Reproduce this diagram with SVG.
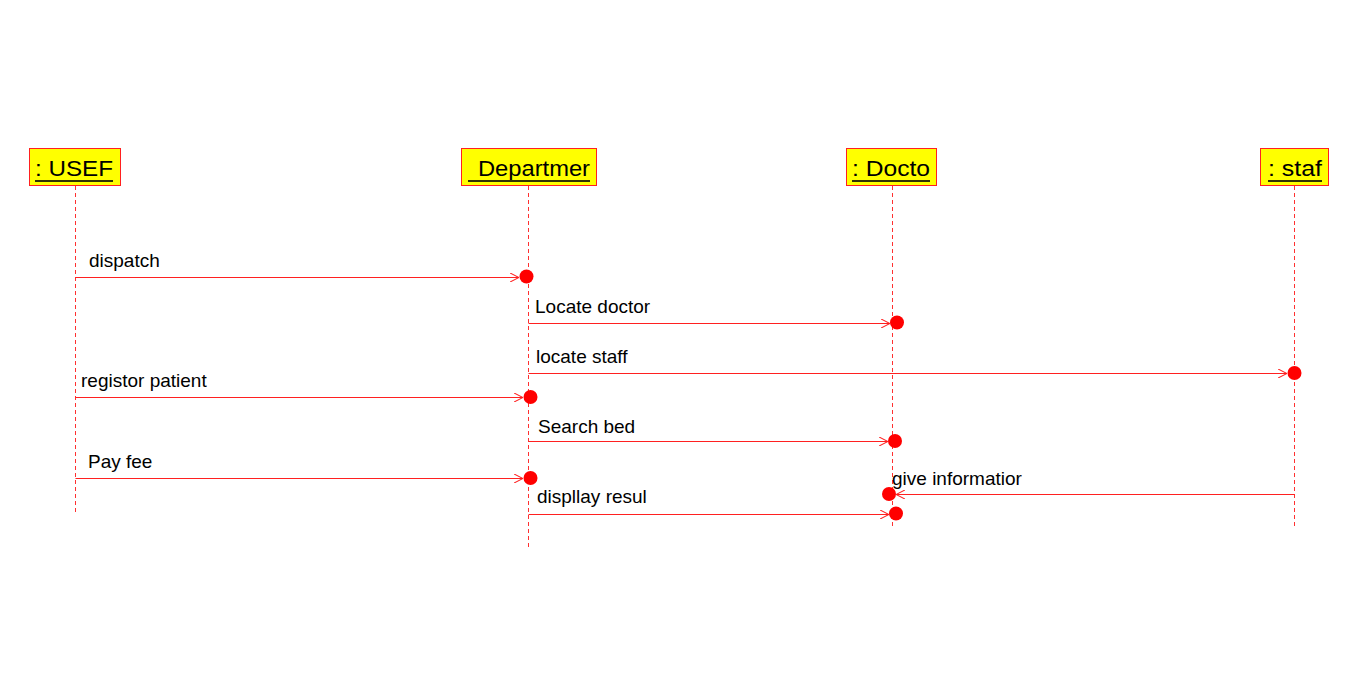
<svg xmlns="http://www.w3.org/2000/svg" width="1366" height="692" viewBox="0 0 1366 692">
<style>
.box{fill:#ffff00;stroke:#ff2020;stroke-width:1}
.life{stroke:#ff3030;stroke-width:1;stroke-dasharray:4 3;fill:none}
.hd{font-family:"Liberation Sans",Arial,sans-serif;font-size:22px;fill:#000}
.ul{stroke:#333300;stroke-width:2}
.msg{stroke:#ff2020;stroke-width:1;fill:none}
.lbl{font-family:"Liberation Sans",Arial,sans-serif;font-size:19px;fill:#000}
.dot{fill:#ff0000}
</style>
<defs>
<marker id="arr" viewBox="0 0 10 10" refX="10" refY="5" markerWidth="9" markerHeight="9" markerUnits="userSpaceOnUse" orient="auto">
<path d="M0,0 L10,5 L0,10" fill="none" stroke="#ff2020" stroke-width="1.2"/>
</marker>
</defs>
<rect width="1366" height="692" fill="#fff"/>
<g id="user">
<rect class="box" x="29.5" y="148.5" width="91" height="37"/>
<text class="hd" x="35" y="176" textLength="78" lengthAdjust="spacingAndGlyphs">: USEF</text>
<line class="ul" x1="35" y1="181" x2="113" y2="181"/>
<line class="life" x1="75.5" y1="186" x2="75.5" y2="512"/>
</g>
<g id="department">
<rect class="box" x="461.5" y="148.5" width="135" height="37"/>
<text class="hd" x="478" y="176" textLength="112" lengthAdjust="spacingAndGlyphs">Departmer</text>
<line class="ul" x1="468" y1="181" x2="590" y2="181"/>
<line class="life" x1="528.5" y1="186" x2="528.5" y2="547"/>
</g>
<g id="doctor">
<rect class="box" x="846.5" y="148.5" width="90" height="37"/>
<text class="hd" x="852" y="176" textLength="78" lengthAdjust="spacingAndGlyphs">: Docto</text>
<line class="ul" x1="852" y1="181" x2="930" y2="181"/>
<line class="life" x1="892.5" y1="186" x2="892.5" y2="527"/>
</g>
<g id="staff">
<rect class="box" x="1260.5" y="148.5" width="68" height="37"/>
<text class="hd" x="1268" y="176" textLength="54" lengthAdjust="spacingAndGlyphs">: staf</text>
<line class="ul" x1="1268" y1="181" x2="1322" y2="181"/>
<line class="life" x1="1294.5" y1="186" x2="1294.5" y2="528"/>
</g>
<g id="connectors">
<line class="msg" x1="75.5" y1="277.5" x2="519" y2="277.5" marker-end="url(#arr)"/>
<circle class="dot" cx="526.5" cy="276.5" r="7"/>
<text class="lbl" x="89" y="267">dispatch</text>

<line class="msg" x1="528.5" y1="323.5" x2="890" y2="323.5" marker-end="url(#arr)"/>
<circle class="dot" cx="897" cy="322.5" r="7"/>
<text class="lbl" x="535" y="313">Locate doctor</text>

<line class="msg" x1="528.5" y1="373.5" x2="1287" y2="373.5" marker-end="url(#arr)"/>
<circle class="dot" cx="1294.5" cy="373" r="7"/>
<text class="lbl" x="536" y="363">locate staff</text>

<line class="msg" x1="75.5" y1="397.5" x2="523" y2="397.5" marker-end="url(#arr)"/>
<circle class="dot" cx="530.5" cy="397" r="7"/>
<text class="lbl" x="81" y="387">registor patient</text>

<line class="msg" x1="528.5" y1="441.5" x2="888" y2="441.5" marker-end="url(#arr)"/>
<circle class="dot" cx="895" cy="441" r="7"/>
<text class="lbl" x="538" y="433">Search bed</text>

<line class="msg" x1="75.5" y1="478.5" x2="523" y2="478.5" marker-end="url(#arr)"/>
<circle class="dot" cx="530.5" cy="478" r="7"/>
<text class="lbl" x="88" y="468">Pay fee</text>

<line class="msg" x1="1294.5" y1="494.5" x2="896" y2="494.5" marker-end="url(#arr)"/>
<circle class="dot" cx="889" cy="494" r="7"/>
<text class="lbl" x="892" y="485">give informatior</text>

<line class="msg" x1="528.5" y1="514.5" x2="889" y2="514.5" marker-end="url(#arr)"/>
<circle class="dot" cx="896" cy="513.5" r="7"/>
<text class="lbl" x="537" y="503">displlay resul</text>
</g>
</svg>
